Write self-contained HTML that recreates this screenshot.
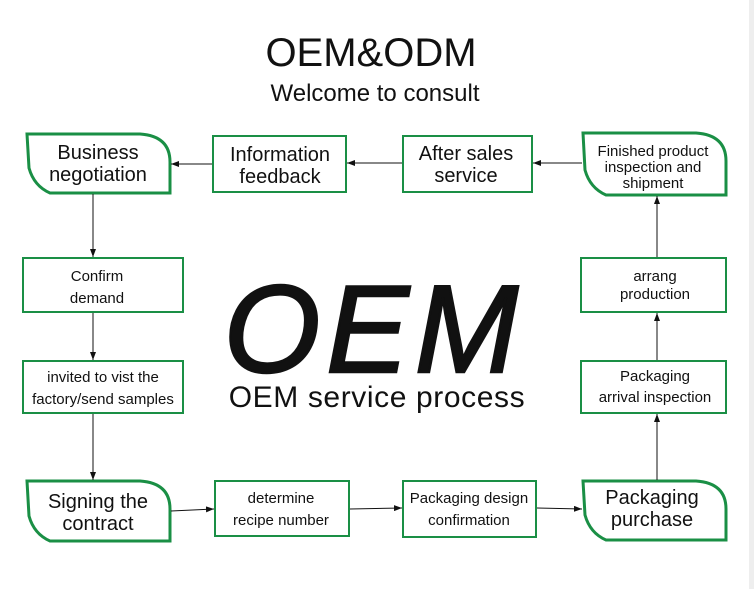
<!DOCTYPE html>
<html><head><meta charset="utf-8"><style>
body{margin:0;background:#fff}
svg text{font-family:"Liberation Sans","DejaVu Sans",sans-serif;fill:#111;text-anchor:middle}
</style></head><body>
<svg width="754" height="589" viewBox="0 0 754 589" xmlns="http://www.w3.org/2000/svg">
<defs><marker id="a" markerWidth="8" markerHeight="6" refX="8" refY="3" orient="auto" markerUnits="userSpaceOnUse"><path d="M0,0 L8,3 L0,6 z" fill="#111"/></marker></defs>
<rect x="749" y="0" width="5" height="589" fill="#eee"/>
<text x="371" y="66" font-size="40">OEM&amp;ODM</text>
<text x="375" y="101" font-size="24">Welcome to consult</text>
<text x="374" y="372" font-size="124" font-style="italic" letter-spacing="6" stroke="#111" stroke-width="2.5">OEM</text>
<text x="377" y="407" font-size="30" letter-spacing="0.6">OEM service process</text>
<g fill="none" stroke="#1a8f45" stroke-width="3">
<path d="M27,134 H140 Q170,136 170,162 V193 H50 Q34,186 29,168 Z"/>
<path d="M583,133 H696 Q726,135 726,161 V195 H606 Q590,188 585,170 Z"/>
<path d="M27,481 H140 Q170,483 170,509 V541 H50 Q34,534 29,516 Z"/>
<path d="M583,481 H696 Q726,483 726,509 V540 H606 Q590,533 585,515 Z"/>
</g>
<g fill="none" stroke="#1a8f45" stroke-width="2">
<rect x="213" y="136" width="133" height="56"/>
<rect x="403" y="136" width="129" height="56"/>
<rect x="23" y="258" width="160" height="54"/>
<rect x="23" y="361" width="160" height="52"/>
<rect x="215" y="481" width="134" height="55"/>
<rect x="403" y="481" width="133" height="56"/>
<rect x="581" y="258" width="145" height="54"/>
<rect x="581" y="361" width="145" height="52"/>
</g>
<g stroke="#111" stroke-width="1" marker-end="url(#a)">
<line x1="93" y1="194" x2="93" y2="257"/>
<line x1="93" y1="313" x2="93" y2="360"/>
<line x1="93" y1="414" x2="93" y2="480"/>
<line x1="657" y1="480" x2="657" y2="414"/>
<line x1="657" y1="360" x2="657" y2="313"/>
<line x1="657" y1="257" x2="657" y2="196"/>
<line x1="212" y1="164" x2="171" y2="164"/>
<line x1="402" y1="163" x2="347" y2="163"/>
<line x1="582" y1="163" x2="533" y2="163"/>
<line x1="171" y1="511" x2="214" y2="509"/>
<line x1="350" y1="509" x2="402" y2="508"/>
<line x1="537" y1="508" x2="582" y2="509"/>
</g>
<g font-size="20">
<text x="98" y="159">Business</text><text x="98" y="181">negotiation</text>
<text x="280" y="161">Information</text><text x="280" y="183">feedback</text>
<text x="466" y="160">After sales</text><text x="466" y="182">service</text>
<text x="98" y="508">Signing the</text><text x="98" y="530">contract</text>
<text x="652" y="504">Packaging</text><text x="652" y="526">purchase</text>
</g>
<g font-size="15">
<text x="653" y="156">Finished product</text><text x="653" y="172">inspection and</text><text x="653" y="188">shipment</text>
<text x="97" y="281">Confirm</text><text x="97" y="303">demand</text>
<text x="103" y="382">invited to vist the</text><text x="103" y="404">factory/send samples</text>
<text x="281" y="503">determine</text><text x="281" y="525">recipe number</text>
<text x="469" y="503">Packaging design</text><text x="469" y="525">confirmation</text>
<text x="655" y="281">arrang</text><text x="655" y="299">production</text>
<text x="655" y="381">Packaging</text><text x="655" y="402">arrival inspection</text>
</g>
</svg>
</body></html>
